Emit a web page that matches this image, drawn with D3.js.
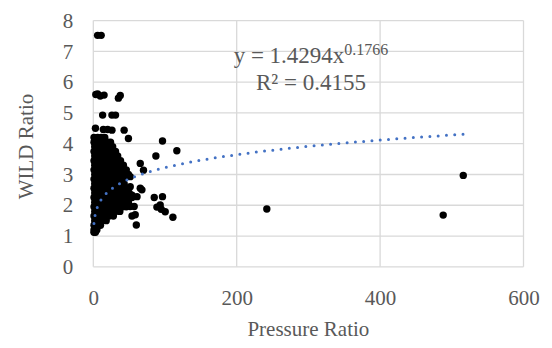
<!DOCTYPE html>
<html><head><meta charset="utf-8">
<script src="https://cdn.jsdelivr.net/npm/d3@7"></script>
<style>
html,body{margin:0;padding:0;background:#fff;}
svg{display:block;}
text{font-family:"Liberation Serif","Times New Roman",serif;fill:#595959;}
</style></head>
<body>
<svg id="chart" width="552" height="348"></svg>
<script>
// ---- data ----
const xTicks = [0, 200, 400, 600];
const yTicks = [0, 1, 2, 3, 4, 5, 6, 7, 8];
const xLabel = "Pressure Ratio";
const yLabel = "WILD Ratio";
const trendA = 1.4294, trendB = 0.1766, trendR2 = "0.4155";

// dense cluster near the origin (pressure ratio, WILD ratio)
const clusterPoints = [
  [1,4.2],[6,4.2],[11,4.2],[16,4.2],
  [1,4.05],[5,4.05],[10,4.05],[15,4.05],[20,4.05],[24,4.05],
  [2,3.9],[7,3.9],[12,3.9],[17,3.9],[22,3.9],[27,3.9],
  [1,3.75],[6,3.75],[11,3.75],[16,3.75],[21,3.75],[26,3.75],[31,3.75],
  [2,3.6],[7,3.6],[12,3.6],[18,3.6],[23,3.6],[28,3.6],[34,3.6],
  [1,3.45],[5,3.45],[10,3.45],[15,3.45],[21,3.45],[27,3.45],[33,3.45],[38,3.45],
  [2,3.3],[7,3.3],[13,3.3],[19,3.3],[25,3.3],[31,3.3],[37,3.3],[42,3.3],
  [1,3.15],[6,3.15],[11,3.15],[17,3.15],[23,3.15],[29,3.15],[35,3.15],[41,3.15],[46,3.15],
  [2,3.0],[8,3.0],[14,3.0],[20,3.0],[26,3.0],[32,3.0],[38,3.0],[44,3.0],[49,3.0],
  [1,2.85],[6,2.85],[12,2.85],[18,2.85],[24,2.85],[30,2.85],[36,2.85],[42,2.85],
  [2,2.7],[7,2.7],[13,2.7],[19,2.7],[25,2.7],[31,2.7],[37,2.7],[43,2.7],
  [1,2.55],[6,2.55],[11,2.55],[17,2.55],[23,2.55],[29,2.55],[35,2.55],[41,2.55],[45,2.55],
  [2,2.4],[8,2.4],[14,2.4],[20,2.4],[26,2.4],[32,2.4],[38,2.4],[44,2.4],[50,2.4],
  [1,2.25],[6,2.25],[12,2.25],[18,2.25],[24,2.25],[30,2.25],[36,2.25],[42,2.25],[48,2.25],[54,2.25],
  [2,2.1],[7,2.1],[13,2.1],[19,2.1],[25,2.1],[31,2.1],[37,2.1],[43,2.1],[49,2.1],
  [1,1.95],[6,1.95],[11,1.95],[17,1.95],[23,1.95],[29,1.95],[35,1.95],[41,1.95],[46,1.95],
  [2,1.8],[7,1.8],[13,1.8],[19,1.8],[25,1.8],[31,1.8],[37,1.8],
  [1,1.65],[5,1.65],[10,1.65],[16,1.65],[22,1.65],[28,1.65],
  [2,1.5],[7,1.5],[12,1.5],[18,1.5],
  [1,1.35],[5,1.35],[10,1.35],
  [1,1.2],[5,1.2],
  [0.9,1.12],[3,1.12]
];

// scattered points around and away from the cluster
const scatterPoints = [
  [6,7.52],[11,7.52],
  [3.5,5.6],[6,5.62],[9.7,5.55],[15,5.58],[35,5.48],[37.6,5.57],
  [13,4.93],[26,4.93],[31,4.93],
  [3,4.5],[14,4.46],[20,4.46],[26,4.44],[43,4.44],
  [49,4.17],[96.5,4.09],[116.5,3.77],[87.3,3.6],
  [65.5,3.36],[70,3.14],[51.5,2.93],[51.5,2.6],[65.5,2.55],[67.8,2.5],
  [54,2.33],[61,2.28],[51.5,1.96],[57,1.96],[58.5,1.69],[54,1.65],[60,1.36],
  [85,2.25],[96.5,2.28],[93.3,2.01],[88.7,1.94],[94.7,1.87],[100.3,1.79],[111,1.61],
  [242,1.88],[516,2.97],[488,1.68]
];

// ---- layout ----
const svg = d3.select("#chart");
const x = d3.scaleLinear().domain([0, 600]).range([93.3, 523.5]);
const y = d3.scaleLinear().domain([0, 8]).range([266.8, 20.6]);
const grid = "#d9d9d9";

// gridlines
svg.append("g").selectAll("line").data(yTicks).join("line")
  .attr("x1", x(0)).attr("x2", x(600))
  .attr("y1", d => y(d)).attr("y2", d => y(d))
  .attr("stroke", grid).attr("stroke-width", 1.3);
svg.append("g").selectAll("line").data(xTicks).join("line")
  .attr("y1", y(0)).attr("y2", y(8))
  .attr("x1", d => x(d)).attr("x2", d => x(d))
  .attr("stroke", grid).attr("stroke-width", 1.3);

// axes labels via d3 axes (domain/ticks hidden)
const xAxis = svg.append("g").attr("transform", `translate(0,${y(0)})`)
  .call(d3.axisBottom(x).tickValues(xTicks).tickSize(0).tickPadding(24));
const yAxis = svg.append("g").attr("transform", `translate(${x(0)},0)`)
  .call(d3.axisLeft(y).tickValues(yTicks).tickSize(0).tickPadding(20));
[xAxis, yAxis].forEach(a => {
  a.select(".domain").remove();
  a.selectAll("text").attr("font-family", "Liberation Serif").attr("font-size", 21).attr("fill", "#595959");
});
xAxis.selectAll("text").attr("dy", null).attr("y", 38);

// points
const allPoints = clusterPoints.concat(scatterPoints);
svg.append("g").selectAll("circle").data(allPoints).join("circle")
  .attr("cx", d => x(d[0])).attr("cy", d => y(d[1])).attr("r", 3.7).attr("fill", "#000");

// power trendline over data range
const xMin = d3.min(allPoints, d => d[0]), xMax = d3.max(allPoints, d => d[0]);
const tx = d3.range(0, 401).map(i => xMin * Math.pow(xMax / xMin, i / 400));
svg.append("path")
  .attr("d", d3.line().x(d => x(d)).y(d => y(trendA * Math.pow(d, trendB)))(tx))
  .attr("fill", "none").attr("stroke", "#4472C4").attr("stroke-width", 3)
  .attr("stroke-linecap", "round").attr("stroke-dasharray", "0 8.3");

// equation
const eq = svg.append("text").attr("x", 311).attr("y", 63).attr("text-anchor", "middle").attr("font-size", 23);
eq.append("tspan").text(`y = ${trendA}x`);
eq.append("tspan").attr("font-size", 16).attr("dy", -8).text(trendB);
svg.append("text").attr("x", 311).attr("y", 90).attr("text-anchor", "middle").attr("font-size", 23)
  .text(`R² = ${trendR2}`);

// axis titles
svg.append("text").attr("x", x(300)).attr("y", 336).attr("text-anchor", "middle").attr("font-size", 21).text(xLabel);
svg.append("text").attr("transform", "translate(33,146.5) rotate(-90)").attr("text-anchor", "middle").attr("font-size", 21).text(yLabel);
</script>
</body></html>
